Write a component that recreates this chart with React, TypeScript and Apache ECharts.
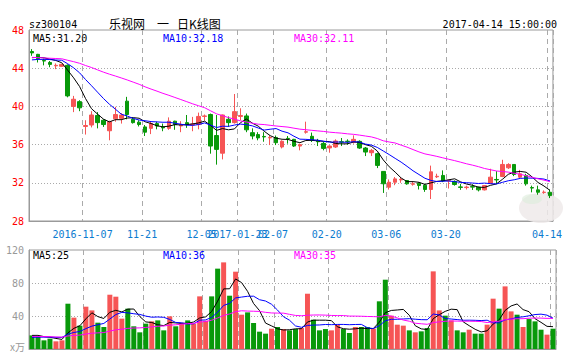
import React, { useEffect, useRef } from 'react';
import * as echarts from 'echarts';

// ---------- data ----------
const dates = ['2016-10-25','2016-10-26','2016-10-27','2016-10-28','2016-10-31','2016-11-01','2016-11-02','2016-11-03','2016-11-04','2016-11-07','2016-11-08','2016-11-09','2016-11-10','2016-11-11','2016-11-14','2016-11-15','2016-11-16','2016-11-17','2016-11-18','2016-11-21','2016-11-22','2016-11-23','2016-11-24','2016-11-25','2016-11-28','2016-11-29','2016-11-30','2016-12-01','2016-12-02','2016-12-05','2017-01-16','2017-01-17','2017-01-18','2017-01-19','2017-01-20','2017-01-23','2017-01-24','2017-01-25','2017-01-26','2017-02-03','2017-02-06','2017-02-07','2017-02-08','2017-02-09','2017-02-10','2017-02-13','2017-02-14','2017-02-15','2017-02-16','2017-02-17','2017-02-20','2017-02-21','2017-02-22','2017-02-23','2017-02-24','2017-02-27','2017-02-28','2017-03-01','2017-03-02','2017-03-03','2017-03-06','2017-03-07','2017-03-08','2017-03-09','2017-03-10','2017-03-13','2017-03-14','2017-03-15','2017-03-16','2017-03-17','2017-03-20','2017-03-21','2017-03-22','2017-03-23','2017-03-24','2017-03-27','2017-03-28','2017-03-29','2017-03-30','2017-03-31','2017-04-05','2017-04-06','2017-04-07','2017-04-10','2017-04-11','2017-04-12','2017-04-13','2017-04-14'];

const opens = [45.75,45.45,44.8,44.6,44.25,44.2,44.3,40.0,40.5,37.9,
38.05,39.05,38.55,37.45,38.7,38.75,40.55,38.65,38.35,37.85,
37.7,38.2,37.85,37.7,38.45,37.95,38.3,38.05,38.1,38.95,
39.15,36.95,35.1,38.65,38.3,38.95,39.0,37.25,37.05,36.85,
36.7,36.75,35.75,36.65,36.55,35.85,37.3,36.87,36.4,36.13,
35.65,35.75,36.3,36.36,36.27,36.34,35.64,35.15,35.05,33.19,
31.54,32.06,32.3,32.24,31.85,31.96,31.75,31.3,32.63,32.77,
32.2,32.15,31.57,31.5,31.6,31.54,31.26,31.96,32.35,32.66,
33.57,33.92,32.59,32.77,31.5,31.26,30.99,31.01];

const closes = [45.6,45.0,44.75,44.4,44.3,44.4,41.1,40.75,39.85,38.0,
39.1,38.3,38.1,38.4,39.15,39.1,39.15,38.3,38.1,37.3,
38.2,37.95,37.75,38.45,38.1,38.05,38.1,38.15,38.95,39.0,
35.85,35.5,39.1,38.3,39.45,39.05,37.55,36.9,36.7,36.8,
36.75,36.2,36.35,36.6,35.85,36.0,37.35,36.45,36.3,35.6,
35.85,36.38,36.25,36.32,36.55,35.64,35.22,35.4,33.82,31.9,
32.06,32.41,32.35,31.89,31.9,31.72,31.3,33.15,32.68,32.2,
32.25,31.82,31.52,31.55,31.55,31.26,31.71,32.59,32.3,33.92,
33.92,32.87,32.94,31.89,31.45,31.01,31.02,30.66];

const lows = [45.3,44.6,44.3,44.1,43.9,44.15,40.95,39.4,39.5,37.05,
37.8,37.7,37.85,36.45,38.4,38.2,38.65,38.2,37.9,36.9,
37.1,37.6,37.4,37.55,37.55,37.3,37.75,37.4,37.6,38.5,
35.05,33.9,34.45,37.85,38.2,38.55,37.3,36.55,36.45,36.3,
35.95,35.95,35.6,36.1,35.75,35.4,37.15,36.27,35.85,35.4,
35.15,35.65,35.85,36.0,36.1,35.55,34.8,34.8,33.54,30.94,
31.29,31.75,32.0,31.8,31.7,31.3,31.05,30.3,32.5,32.07,
31.4,31.7,31.26,31.3,31.25,31.1,31.2,31.89,31.89,32.59,
33.45,32.7,32.5,31.7,31.0,30.75,30.85,30.4];

const highs = [46.0,45.5,45.0,44.75,44.5,44.45,44.4,41.1,40.65,38.55,
39.5,39.4,38.65,38.5,39.95,39.3,41.0,38.85,38.55,38.05,
38.4,38.4,38.2,38.85,38.5,38.45,39.1,38.9,39.35,39.15,
39.25,39.1,39.15,38.95,41.3,39.8,39.25,37.7,37.3,37.3,
36.95,36.95,36.45,36.9,36.6,36.1,38.4,37.26,36.6,36.27,
35.92,36.55,36.69,36.55,36.97,36.45,35.75,35.55,35.15,33.19,
32.35,32.6,32.6,32.24,32.1,32.05,31.9,33.8,32.95,33.3,
32.35,32.25,31.89,31.7,31.85,31.6,31.75,33.47,33.22,34.41,
34.05,33.92,33.35,32.94,31.7,31.7,31.2,31.3];

// volume in 万手
const volumes = [16.5,15.3,10.5,12.5,9.3,10.5,54.9,38.0,28.3,51.3,
46.8,31.9,26.7,65.8,63.4,36.8,48.9,27.5,20.2,30.7,
33.5,34.7,22.6,39.6,27.5,31.5,34.7,30.5,63.8,34.3,
63.8,97.4,105.0,64.6,93.7,41.6,44.4,31.5,21.0,18.6,
24.6,26.7,24.2,22.6,24.2,25.4,67.0,35.5,22.6,24.2,
22.6,29.5,24.2,19.4,26.7,26.7,26.7,24.8,57.8,84.0,
40.4,29.5,28.3,22.6,20.2,21.4,25.4,94.1,46.8,40.4,
34.7,22.6,20.2,23.4,18.6,18.6,29.5,61.0,48.9,75.9,
45.6,41.6,26.7,36.3,33.5,23.4,17.4,24.6];

// history before the visible window (estimated), needed for the moving averages
const prevCloses = [45.6,45.9,45.4,45.1,45.3,45.7,45.2,44.9,45.0,45.4,
45.6,45.3,44.8,44.9,45.2,45.5,45.1,44.9,45.3,45.2,
44.5,44.7,44.6,44.8,44.6,44.8,45.0,45.1,45.0];
const prevVolumes = [18.2,14.5,16.8,20.1,15.3,13.7,17.4,15.9,14.2,16.6,
19.0,15.1,13.8,14.9,16.3,17.7,15.4,14.0,16.2,12.9,
12.4,10.8,11.9,12.6,10.8,15.2,17.9,16.4,16.5];

const tickIndex = [9, 19, 29, 35, 41, 50, 60, 70, 87];
const tickText = ['2016-11-07', '11-21', '12-05', '2017-01-23', '02-07', '02-20', '03-06', '03-20', '04-14'];

const priceLegend = ['MA5:31.20', 'MA10:32.18', 'MA30:32.11'];
const volumeLegend = ['MA5:25', 'MA10:36', 'MA30:35'];
const stockCode = 'sz300104';
const stockTime = '2017-04-14 15:00:00';

// ---------- helpers ----------
function movingAverage(prev: number[], cur: number[], n: number): number[] {
  const all = prev.concat(cur);
  const off = prev.length;
  return cur.map((_, i) => {
    let s = 0;
    for (let k = 0; k < n; k++) s += all[off + i - k];
    return +(s / n).toFixed(3);
  });
}

const RED = '#f65555';
const GREEN = '#08990a';
const MONO = '"DejaVu Sans Mono", "Liberation Mono", monospace';
const CJK = '"Noto Sans CJK SC", sans-serif';

export default function App() {
  const ref = useRef<HTMLDivElement>(null);

  useEffect(() => {
    if (!ref.current) return;
    const chart = echarts.init(ref.current, undefined, { renderer: 'svg' });

    const ohlc = dates.map((_, i) => [opens[i], closes[i], lows[i], highs[i]]);
    const volData = volumes.map((v, i) => ({
      value: v,
      itemStyle: { color: closes[i] >= opens[i] ? RED : GREEN },
    }));
    const labelAt: Record<number, string> = {};
    tickIndex.forEach((idx, k) => { labelAt[idx] = tickText[k]; });
    const isTick = (i: number) => tickIndex.indexOf(i) >= 0;

    const ma = (d: number[], color: string, xi: number) => ({
      type: 'line', xAxisIndex: xi, yAxisIndex: xi, data: d, symbol: 'none', showSymbol: false,
      lineStyle: { width: 1, color }, itemStyle: { color }, z: 4, silent: true,
    });

    const vSplit = { show: true, interval: (i: number) => isTick(i), lineStyle: { color: '#aaaaaa', type: [5, 4], width: 1 } };
    const hSplit = { show: true, showMinLine: false, showMaxLine: false, lineStyle: { color: '#aaaaaa', type: [1, 2], width: 1 } };

    const text = (t: string, x: number, y: number, fill: string, font: string, align = 'left') => ({
      type: 'text', x, y, z: 10,
      style: { text: t, fill, font, textAlign: align, textVerticalAlign: 'middle', align, verticalAlign: 'middle' },
    });

    chart.setOption({
      animation: false,
      backgroundColor: '#ffffff',
      grid: [
        { left: 29, top: 30, width: 527, height: 191, show: true, borderColor: '#9a9a9a', borderWidth: 1, backgroundColor: 'transparent' },
        { left: 29, top: 250, width: 527, height: 99, show: true, borderColor: '#9a9a9a', borderWidth: 1, backgroundColor: 'transparent' },
      ],
      xAxis: [
        {
          type: 'category', gridIndex: 0, data: dates, boundaryGap: true,
          axisLine: { show: true, lineStyle: { color: '#9a9a9a' } },
          axisTick: { show: false, interval: (i: number) => isTick(i) },
          axisLabel: {
            interval: (i: number) => isTick(i),
            formatter: (_v: string, i: number) => labelAt[i] || '',
            color: '#0c7bd0', fontFamily: MONO, fontSize: 10, margin: 8, padding: [0, 6, 0, 0],
          },
          splitLine: vSplit,
        },
        {
          type: 'category', gridIndex: 1, data: dates, boundaryGap: true,
          axisLine: { show: true, lineStyle: { color: '#9a9a9a' } },
          axisTick: { show: false, interval: (i: number) => isTick(i) },
          axisLabel: { show: false, interval: (i: number) => isTick(i) },
          splitLine: vSplit,
        },
      ],
      yAxis: [
        {
          type: 'value', gridIndex: 0, min: 28, max: 48, interval: 4,
          axisLine: { show: true, lineStyle: { color: '#9a9a9a' } },
          axisTick: { show: false },
          axisLabel: { color: '#ff0000', fontFamily: MONO, fontSize: 10, margin: 5 },
          splitLine: hSplit,
        },
        {
          type: 'value', gridIndex: 1, min: 0, max: 120, interval: 40,
          axisLine: { show: true, lineStyle: { color: '#9a9a9a' } },
          axisTick: { show: false },
          axisLabel: { color: '#999999', fontFamily: MONO, fontSize: 10, margin: 5, formatter: (v: number) => (v === 0 ? '' : String(v)) },
          splitLine: hSplit,
        },
      ],
      series: [
        {
          type: 'candlestick', xAxisIndex: 0, yAxisIndex: 0, data: ohlc, barWidth: 4, z: 3,
          itemStyle: { color: RED, color0: GREEN, borderColor: RED, borderColor0: GREEN, borderWidth: 1 },
        },
        ma(movingAverage(prevCloses, closes, 5), '#000000', 0),
        ma(movingAverage(prevCloses, closes, 10), '#0000ff', 0),
        ma(movingAverage(prevCloses, closes, 30), '#ff00ff', 0),
        { type: 'bar', xAxisIndex: 1, yAxisIndex: 1, data: volData, barWidth: 5, z: 3 },
        ma(movingAverage(prevVolumes, volumes, 5), '#000000', 1),
        ma(movingAverage(prevVolumes, volumes, 10), '#0000ff', 1),
        ma(movingAverage(prevVolumes, volumes, 30), '#ff00ff', 1),
      ],
      graphic: [
        { type: 'ellipse', z: 1, shape: { cx: 541, cy: 208, rx: 22, ry: 15 }, style: { fill: 'rgba(238,234,234,0.85)' } },
        { type: 'ellipse', z: 1, shape: { cx: 532, cy: 199, rx: 10, ry: 5 }, style: { fill: 'rgba(220,236,218,0.6)' } },
        text(stockCode, 29, 24, '#000', '10px ' + MONO),
        text('乐视网', 109, 23, '#000', '12px ' + CJK),
        text('一', 157, 23, '#000', '12px ' + CJK),
        text('日K线图', 177, 23, '#000', '12px ' + CJK),
        text(stockTime, 557, 24, '#000', '10px ' + MONO, 'right'),
        text(priceLegend[0], 33, 38, '#000000', '10px ' + MONO),
        text(priceLegend[1], 163, 38, '#0000ff', '10px ' + MONO),
        text(priceLegend[2], 294, 38, '#ff00ff', '10px ' + MONO),
        text(volumeLegend[0], 33, 255, '#000000', '10px ' + MONO),
        text(volumeLegend[1], 163, 255, '#0000ff', '10px ' + MONO),
        text(volumeLegend[2], 294, 255, '#ff00ff', '10px ' + MONO),
        text('x万', 25, 346, '#999999', '10px ' + CJK, 'right'),
      ],
    });

    return () => chart.dispose();
  }, []);

  return (
    <div
      ref={ref}
      style={{ position: 'fixed', left: 0, top: 0, width: 565, height: 353, background: '#fff' }}
    />
  );
}
